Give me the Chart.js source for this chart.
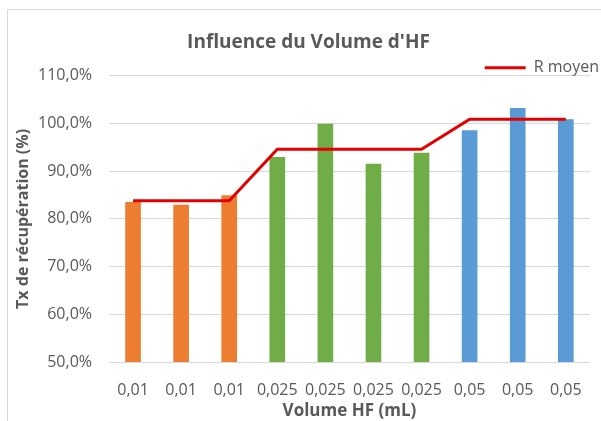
<!DOCTYPE html>
<html>
<head>
<meta charset="utf-8">
<script src="https://cdn.jsdelivr.net/npm/chart.js@4"></script>
<style>
  html, body { margin: 0; padding: 0; background: #fff; }
  #wrap { position: relative; width: 601px; height: 421px; overflow: hidden; }
  #frame { position: absolute; left: 7px; top: 9px; width: 700px; height: 500px;
           border-left: 1px solid #d9d9d9; border-top: 1px solid #d9d9d9; }
  canvas { position: absolute; left: 0; top: 0; }
</style>
</head>
<body>
<div id="wrap">
  <div id="frame"></div>
  <canvas id="c" width="601" height="421"></canvas>
</div>
<script>
// ---- data ----
const categories = ['0,01', '0,01', '0,01', '0,025', '0,025', '0,025', '0,025', '0,05', '0,05', '0,05'];
const groups = ['0,01', '0,01', '0,01', '0,025', '0,025', '0,025', '0,025', '0,05', '0,05', '0,05'];
const recovery = [83.5, 82.9, 84.9, 92.9, 99.9, 91.5, 93.8, 98.5, 103.2, 100.8];
const meanR = [83.8, 83.8, 83.8, 94.6, 94.6, 94.6, 94.6, 100.9, 100.9, 100.9];
const yTicks = [50, 60, 70, 80, 90, 100, 110];

// ---- styles ----
const groupColor = { '0,01': '#ED7D31', '0,025': '#70AD47', '0,05': '#5B9BD5' };
const textGray = '#595959';
const gridGray = '#D9D9D9';
const FONT = "'Open Sans', sans-serif";

const layoutTweaks = {
  id: 'layoutTweaks',
  beforeLayout(chart) {
    const lg = chart.legend;
    if (lg && !lg._tweaked) {
      const fit = lg.fit;
      lg.fit = function () { fit.call(this); this.height = 16; };
      lg._tweaked = true;
    }
  },
  afterLayout(chart) {
    if (chart.titleBlock) { chart.titleBlock.left = 18; chart.titleBlock.right = 599; }
    if (chart.legend) { chart.legend.right = 599; }
  }
};

new Chart(document.getElementById('c'), {
  data: {
    labels: categories,
    datasets: [
      {
        type: 'line',
        label: 'R moyen',
        data: meanR,
        borderColor: '#E50000',
        backgroundColor: '#E50000',
        borderWidth: 3,
        pointRadius: 0,
        tension: 0,
        order: 0
      },
      {
        type: 'bar',
        label: 'Tx',
        data: recovery,
        backgroundColor: groups.map(g => groupColor[g]),
        barThickness: 15,
        order: 1
      }
    ]
  },
  plugins: [layoutTweaks],
  options: {
    responsive: false,
    animation: false,
    layout: { padding: { left: 0, right: 8, top: 0, bottom: 0 } },
    plugins: {
      title: {
        display: true,
        text: "Influence du Volume d'HF",
        color: textGray,
        font: { family: FONT, size: 19, weight: 'bold' },
        padding: { top: 31, bottom: 6 }
      },
      legend: {
        display: true,
        position: 'top',
        align: 'end',
        labels: {
          color: textGray,
          font: { family: FONT, size: 16 },
          boxWidth: 41,
          boxHeight: 3,
          padding: 0,
          filter: item => item.text === 'R moyen',
          generateLabels: chart => {
            const items = Chart.defaults.plugins.legend.labels.generateLabels(chart);
            items.forEach(it => { it.lineWidth = 0; });
            return items;
          }
        }
      },
      tooltip: { enabled: false }
    },
    scales: {
      x: {
        grid: { display: false, drawTicks: false },
        border: { display: true, color: gridGray },
        ticks: { color: textGray, font: { family: FONT, size: 16 }, padding: 19, maxRotation: 0, autoSkip: false },
        title: { display: true, text: 'Volume HF (mL)', color: textGray,
                 font: { family: FONT, size: 17, weight: 'bold' }, padding: { top: 0, bottom: 0 } },
        afterFit: s => { s.height = 59; }
      },
      y: {
        min: 50,
        max: 110,
        afterBuildTicks: s => { s.ticks = yTicks.map(v => ({ value: v })); },
        grid: { color: gridGray, drawTicks: false },
        border: { display: false },
        ticks: { color: textGray, font: { family: FONT, size: 16 }, padding: 17,
                 callback: v => v.toFixed(1).replace('.', ',') + '%' },
        title: { display: true, text: 'Tx de récupération (%)', color: textGray,
                 font: { family: FONT, size: 16, weight: 'bold' }, padding: { top: 14, bottom: 0 } },
        afterFit: s => { s.width = 109; }
      }
    }
  }
});
</script>
</body>
</html>
